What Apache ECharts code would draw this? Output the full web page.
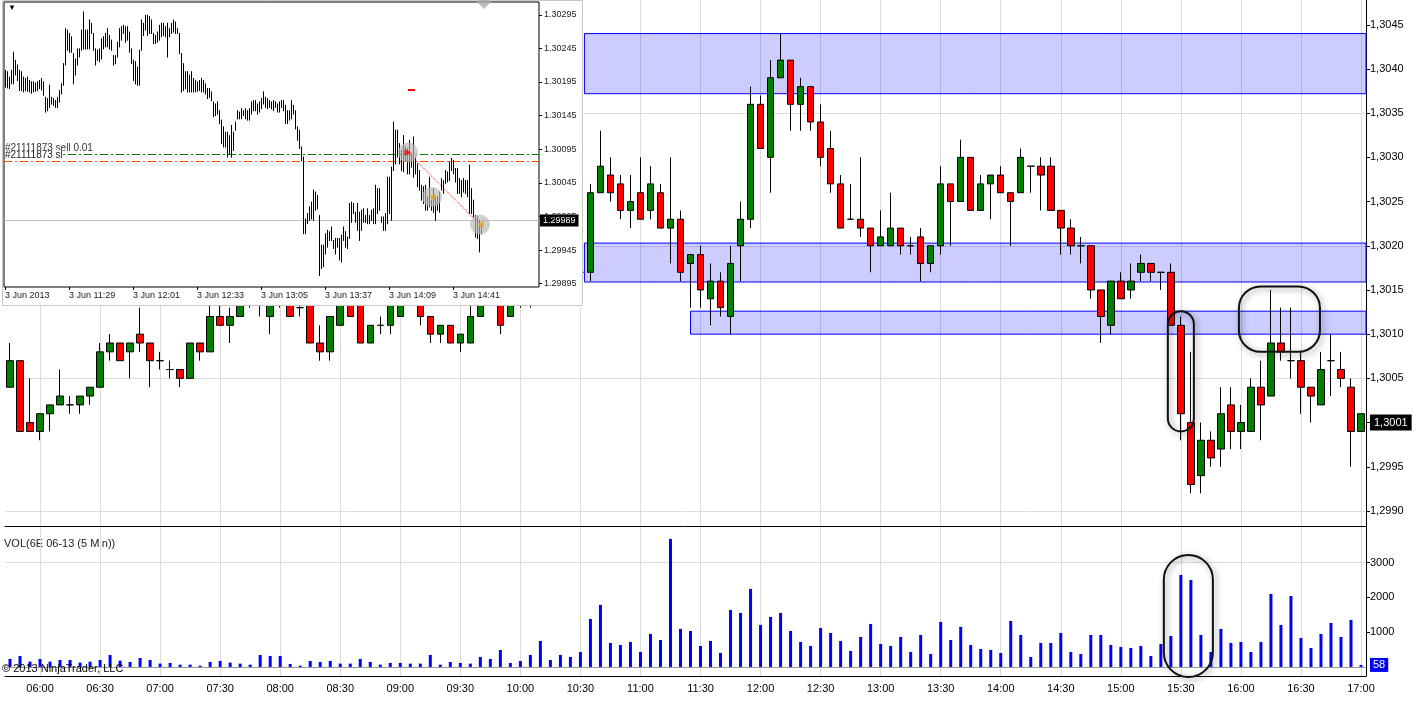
<!DOCTYPE html>
<html>
<head>
<meta charset="utf-8">
<title>6E 06-13 (5 Min)</title>
<script src="https://cdn.jsdelivr.net/npm/echarts@6/dist/echarts.min.js"></script>
<style>
  html, body { margin: 0; padding: 0; background: #fff; }
  #chart { width: 1424px; height: 703px; }
</style>
</head>
<body>
<div id="chart"></div>
<script>
// ---- main chart: 6E 06-13, 5 minute bars 05:45 .. 17:00 ----
const times = [];
for (let m = 5 * 60 + 45; m <= 17 * 60; m += 5) {
  times.push(String(Math.floor(m / 60)).padStart(2, "0") + ":" + String(m % 60).padStart(2, "0"));
}

// [open, high, low, close]
const ohlc = [
  [1.3004, 1.3009, 1.3004, 1.3007], [1.3007, 1.3007, 1.2999, 1.2999], [1.3000, 1.3005, 1.2999, 1.2999],
  [1.2999, 1.3001, 1.2998, 1.3001], [1.3001, 1.3002, 1.2999, 1.3002], [1.3002, 1.3006, 1.3002, 1.3003],
  [1.3002, 1.3003, 1.3001, 1.3002], [1.3002, 1.3003, 1.3001, 1.3003], [1.3003, 1.3004, 1.3002, 1.3004],
  [1.3004, 1.3009, 1.3004, 1.3008], [1.3008, 1.3010, 1.3007, 1.3009], [1.3009, 1.3009, 1.3007, 1.3007],
  [1.3008, 1.3009, 1.3005, 1.3009], [1.3010, 1.3013, 1.3008, 1.3009], [1.3009, 1.3009, 1.3004, 1.3007],
  [1.3007, 1.3008, 1.3006, 1.3007], [1.3006, 1.3007, 1.3005, 1.3006], [1.3006, 1.3006, 1.3004, 1.3005],
  [1.3005, 1.3009, 1.3005, 1.3009], [1.3009, 1.3009, 1.3007, 1.3008], [1.3008, 1.3014, 1.3008, 1.3012],
  [1.3012, 1.3014, 1.3011, 1.3011], [1.3011, 1.3013, 1.3009, 1.3012], [1.3012, 1.3015, 1.3012, 1.3014],
  [1.3014, 1.3015, 1.3013, 1.3014], [1.3014, 1.3016, 1.3012, 1.3015], [1.3012, 1.3016, 1.3010, 1.3015],
  [1.3015, 1.3016, 1.3013, 1.3014], [1.3015, 1.3016, 1.3012, 1.3012], [1.3013, 1.3014, 1.3012, 1.3013],
  [1.3014, 1.3015, 1.3009, 1.3009], [1.3009, 1.3011, 1.3007, 1.3008], [1.3008, 1.3012, 1.3007, 1.3012],
  [1.3011, 1.3015, 1.3011, 1.3014], [1.3014, 1.3015, 1.3012, 1.3012], [1.3015, 1.3016, 1.3009, 1.3009],
  [1.3009, 1.3011, 1.3009, 1.3011], [1.3011, 1.3012, 1.3010, 1.3011], [1.3011, 1.3015, 1.3010, 1.3014],
  [1.3012, 1.3016, 1.3012, 1.3015], [1.3015, 1.3017, 1.3014, 1.3016], [1.3015, 1.3016, 1.3011, 1.3012],
  [1.3012, 1.3012, 1.3009, 1.3010], [1.3010, 1.3011, 1.3009, 1.3011], [1.3011, 1.3011, 1.3009, 1.3009],
  [1.3009, 1.3010, 1.3008, 1.3010], [1.3009, 1.3014, 1.3009, 1.3012], [1.3012, 1.3016, 1.3012, 1.3015],
  [1.3015, 1.3017, 1.3014, 1.3016], [1.3014, 1.3015, 1.3010, 1.3011], [1.3012, 1.3015, 1.3012, 1.3014],
  [1.3014, 1.3017, 1.3013, 1.3016], [1.3016, 1.3017, 1.3013, 1.3015], [1.3015, 1.3019, 1.3014, 1.3017],
  [1.3017, 1.3018, 1.3015, 1.3016], [1.3016, 1.3019, 1.3015, 1.3018], [1.3018, 1.3019, 1.3016, 1.3017],
  [1.3017, 1.3018, 1.3016, 1.3017], [1.3017, 1.3027, 1.3016, 1.3026], [1.3026, 1.3033, 1.3026, 1.3029],
  [1.3028, 1.3030, 1.3025, 1.3026], [1.3027, 1.3028, 1.3023, 1.3024], [1.3024, 1.3028, 1.3022, 1.3025],
  [1.3026, 1.3030, 1.3023, 1.3023], [1.3024, 1.3029, 1.3023, 1.3027], [1.3026, 1.3027, 1.3022, 1.3022],
  [1.3022, 1.3030, 1.3018, 1.3023], [1.3023, 1.3024, 1.3016, 1.3017], [1.3018, 1.3019, 1.3013, 1.3019],
  [1.3019, 1.3020, 1.3013, 1.3015], [1.3014, 1.3018, 1.3011, 1.3016], [1.3016, 1.3017, 1.3012, 1.3013],
  [1.3012, 1.3020, 1.3010, 1.3018], [1.3020, 1.3025, 1.3016, 1.3023], [1.3023, 1.3038, 1.3022, 1.3036],
  [1.3036, 1.3037, 1.3031, 1.3031], [1.3030, 1.3041, 1.3026, 1.3039], [1.3039, 1.3044, 1.3039, 1.3041],
  [1.3041, 1.3041, 1.3033, 1.3036], [1.3036, 1.3039, 1.3033, 1.3038], [1.3038, 1.3038, 1.3033, 1.3034],
  [1.3034, 1.3036, 1.3029, 1.3030], [1.3031, 1.3033, 1.3026, 1.3027], [1.3027, 1.3028, 1.3022, 1.3022],
  [1.3023, 1.3027, 1.3023, 1.3023], [1.3023, 1.3030, 1.3021, 1.3022], [1.3022, 1.3022, 1.3017, 1.3020],
  [1.3020, 1.3024, 1.3020, 1.3021], [1.3020, 1.3026, 1.3020, 1.3022], [1.3022, 1.3022, 1.3019, 1.3020],
  [1.3020, 1.3021, 1.3019, 1.3020], [1.3021, 1.3022, 1.3016, 1.3018], [1.3018, 1.3020, 1.3017, 1.3020],
  [1.3020, 1.3029, 1.3019, 1.3027], [1.3027, 1.3027, 1.3020, 1.3025], [1.3025, 1.3032, 1.3025, 1.3030],
  [1.3030, 1.3030, 1.3024, 1.3024], [1.3024, 1.3028, 1.3024, 1.3027], [1.3027, 1.3028, 1.3023, 1.3028],
  [1.3028, 1.3029, 1.3026, 1.3026], [1.3026, 1.3026, 1.3020, 1.3025], [1.3026, 1.3031, 1.3026, 1.3030],
  [1.3029, 1.3029, 1.3026, 1.3029], [1.3029, 1.3030, 1.3024, 1.3028], [1.3029, 1.3030, 1.3024, 1.3024],
  [1.3024, 1.3024, 1.3019, 1.3022], [1.3022, 1.3023, 1.3019, 1.3020], [1.3020, 1.3021, 1.3018, 1.3020],
  [1.3020, 1.3020, 1.3014, 1.3015], [1.3015, 1.3015, 1.3009, 1.3012], [1.3011, 1.3016, 1.3010, 1.3016],
  [1.3016, 1.3017, 1.3014, 1.3014], [1.3015, 1.3018, 1.3014, 1.3016], [1.3017, 1.3019, 1.3016, 1.3018],
  [1.3018, 1.3018, 1.3016, 1.3017], [1.3017, 1.3017, 1.3015, 1.3017], [1.3017, 1.3018, 1.3011, 1.3011],
  [1.3011, 1.3012, 1.2998, 1.3001], [1.3000, 1.3008, 1.2992, 1.2993], [1.2994, 1.3000, 1.2992, 1.2998],
  [1.2998, 1.2999, 1.2995, 1.2996], [1.2997, 1.3004, 1.2995, 1.3001], [1.3002, 1.3004, 1.2997, 1.2999],
  [1.2999, 1.3002, 1.2997, 1.3000], [1.2999, 1.3005, 1.2999, 1.3004], [1.3004, 1.3007, 1.2998, 1.3002],
  [1.3003, 1.3015, 1.3003, 1.3009], [1.3009, 1.3013, 1.3007, 1.3008], [1.3007, 1.3013, 1.3005, 1.3007],
  [1.3007, 1.3008, 1.3001, 1.3004], [1.3004, 1.3004, 1.3000, 1.3003], [1.3002, 1.3008, 1.3002, 1.3006],
  [1.3007, 1.3010, 1.3003, 1.3007], [1.3006, 1.3008, 1.3004, 1.3005], [1.3004, 1.3005, 1.2995, 1.2999],
  [1.2999, 1.3001, 1.2999, 1.3001]
];

const volume = [
  230, 316, 153, 230, 153, 201, 201, 125, 153, 201,
  345, 182, 144, 259, 201, 96, 115, 67, 67, 38,
  144, 172, 125, 96, 67, 345, 316, 316, 86, 38,
  172, 144, 172, 96, 96, 230, 144, 67, 115, 115,
  96, 96, 345, 67, 144, 115, 96, 287, 230, 489,
  115, 172, 345, 747, 201, 345, 287, 431, 1380, 1782,
  690, 632, 718, 431, 948, 776, 3679, 1092, 1035, 604,
  747, 402, 1638, 1552, 2242, 1207, 1437, 1552, 1035, 718,
  604, 1121, 977, 747, 460, 862, 1236, 661, 604, 862,
  431, 920, 374, 1293, 776, 1150, 632, 517, 489, 402,
  1322, 920, 287, 690, 690, 977, 431, 374, 920, 920,
  632, 575, 546, 604, 316, 661, 891, 2644, 2500, 920,
  431, 1092, 690, 718, 431, 718, 2098, 1207, 2040, 833,
  546, 948, 1264, 862, 1351, 58
];

const priceLabels = [1.2990, 1.2995, 1.3000, 1.3005, 1.3010, 1.3015, 1.3020, 1.3025, 1.3030, 1.3035, 1.3040, 1.3045];
const priceGridLines = [1.2990, 1.3005, 1.3020, 1.3035];
const volumeLabels = [1000, 2000, 3000];
const volumeGridLines = [3000];
const lastPrice = 1.3001;
const lastVolume = 58;

// support / resistance zones: [fromBar, topPrice, toBar, bottomPrice]
const zones = [
  [57.4, 1.30440, 135.5, 1.30372],
  [57.4, 1.30203, 135.5, 1.30159],
  [68.0, 1.30126, 135.5, 1.30100]
];

// ---- inset: MT4 1 minute bars, prices in points (1 point = 0.00001) ----
const insetTimeLabels = ["3 Jun 2013", "3 Jun 11:29", "3 Jun 12:01", "3 Jun 12:33",
  "3 Jun 13:05", "3 Jun 13:37", "3 Jun 14:09", "3 Jun 14:41"];
const insetHigh = [
  130213, 130211, 130203, 130213, 130240, 130228, 130221, 130213, 130211, 130203,
  130201, 130203, 130198, 130196, 130196, 130194, 130196, 130198, 130201, 130196,
  130173, 130171, 130191, 130173, 130171, 130168, 130173, 130183, 130193, 130223,
  130275, 130273, 130268, 130263, 130238, 130230, 130245, 130245, 130273, 130300,
  130273, 130273, 130288, 130283, 130268, 130245, 130243, 130245, 130260, 130263,
  130268, 130275, 130265, 130258, 130235, 130235, 130255, 130275, 130278, 130280,
  130278, 130278, 130270, 130245, 130228, 130226, 130218, 130243, 130288, 130283,
  130295, 130295, 130293, 130288, 130268, 130265, 130270, 130280, 130283, 130283,
  130278, 130283, 130275, 130283, 130288, 130285, 130275, 130268, 130238, 130223,
  130211, 130211, 130206, 130211, 130201, 130198, 130196, 130198, 130201, 130198,
  130193, 130186, 130186, 130181, 130166, 130163, 130166, 130153, 130139, 130129,
  130121, 130121, 130116, 130131, 130121, 130136, 130153, 130151, 130156, 130153,
  130156, 130153, 130156, 130166, 130168, 130168, 130163, 130166, 130171, 130181,
  130173, 130171, 130168, 130166, 130168, 130166, 130163, 130166, 130168, 130168,
  130161, 130153, 130153, 130168, 130161, 130153, 130129, 130124, 130099, 130084,
  129992, 130000, 130010, 130017, 130035, 130032, 130027, 129997, 129953, 129953,
  129970, 129975, 129973, 129980, 129960, 129963, 129963, 129963, 129968, 129980,
  129973, 129965, 130015, 130017, 130015, 130002, 130015, 130002, 130005, 130007,
  129997, 130007, 129997, 130005, 130007, 130042, 130037, 130037, 129995, 129995,
  130000, 130054, 130054, 130069, 130136, 130124, 130124, 130104, 130094, 130116,
  130099, 130097, 130109, 130089, 130114, 130084, 130074, 130064, 130042, 130040,
  130042, 130025, 130054, 130020, 130037, 130025, 130025, 130032, 130052, 130049,
  130064, 130062, 130077, 130082, 130079, 130067, 130067, 130052, 130049, 130052,
  130049, 130049, 130072, 130037, 130020, 129997, 129995, 129990, 129982
];
const insetLow = [
  130188, 130187, 130186, 130193, 130193, 130206, 130198, 130183, 130183, 130181,
  130183, 130182, 130181, 130179, 130181, 130182, 130183, 130186, 130184, 130176,
  130151, 130153, 130158, 130163, 130161, 130158, 130158, 130166, 130178, 130191,
  130221, 130243, 130240, 130240, 130193, 130206, 130221, 130233, 130243, 130245,
  130245, 130245, 130245, 130268, 130243, 130221, 130228, 130226, 130230, 130245,
  130248, 130248, 130245, 130243, 130221, 130223, 130233, 130248, 130258, 130268,
  130255, 130258, 130240, 130223, 130198, 130193, 130191, 130191, 130243, 130265,
  130273, 130265, 130268, 130268, 130253, 130253, 130255, 130258, 130263, 130265,
  130263, 130233, 130263, 130268, 130270, 130268, 130268, 130238, 130181, 130183,
  130186, 130181, 130181, 130181, 130181, 130181, 130182, 130183, 130181, 130181,
  130178, 130171, 130173, 130168, 130144, 130146, 130148, 130134, 130104, 130099,
  130099, 130084, 130089, 130084, 130094, 130124, 130141, 130141, 130141, 130146,
  130141, 130139, 130139, 130148, 130153, 130153, 130148, 130151, 130156, 130163,
  130158, 130156, 130158, 130156, 130153, 130158, 130151, 130151, 130158, 130153,
  130134, 130134, 130139, 130141, 130148, 130126, 130109, 130097, 130079, 129970,
  129970, 129985, 129990, 129992, 129990, 130005, 130007, 129908, 129918, 129921,
  129940, 129950, 129960, 129960, 129948, 129940, 129950, 129931, 129928, 129960,
  129950, 129948, 129963, 129987, 130000, 129987, 129975, 129960, 129975, 129987,
  129987, 129985, 129985, 129990, 129985, 129985, 130000, 130005, 129987, 129975,
  129975, 129985, 130000, 129990, 130064, 130074, 130084, 130074, 130064, 130062,
  130079, 130059, 130059, 130069, 130054, 130059, 130040, 130035, 130020, 130015,
  130005, 130005, 130010, 130005, 130002, 129990, 130005, 130002, 130035, 130030,
  130045, 130047, 130049, 130064, 130059, 130047, 130030, 130030, 130025, 130032,
  130030, 130025, 130000, 130000, 129995, 129965, 129963, 129943, 129970
];
const insetPriceLabels = [129895, 129945, 129995, 130045, 130095, 130145, 130195, 130245, 130295];
const insetLabelBars = [0, 32, 64, 96, 128, 160, 192, 224];
const bidPrice = 129989;
const sellLine = 130087;
const stopLine = 130077;
// trade markers [bar, price]
const tradeOpen = [201.5, 130090];
const tradeMid = [213.5, 130024];
const tradeClose = [237.5, 129983];
const pendingMark = [[201.5, 130183], [205, 130183]];

const FONT = "Liberation Sans, Arial, sans-serif";
const halfHours = times.map((t, i) => (/:(00|30)$/.test(t) ? i : -1)).filter((i) => i >= 0);
const fmtPrice = (v) => v.toFixed(4).replace(".", ",");
const NOLINE = "rgba(0,0,0,0)";

const chart = echarts.init(document.getElementById("chart"));

const hiddenAxisBase = {
  axisLine: { show: false, onZero: false },
  axisLabel: { show: false },
};

const option = {
  animation: false,
  backgroundColor: "#fff",
  textStyle: { fontFamily: FONT },
  grid: [
    { left: 5, right: 58, top: 0, height: 526 },
    { left: 5, right: 58, top: 526, height: 150 },
    { left: 4, top: 2, width: 535, height: 285, show: true, borderColor: "#000", borderWidth: 1,
      backgroundColor: "#fff", zlevel: 1, z: 1 }
  ],
  xAxis: [
    { type: "category", gridIndex: 0, data: times,
      axisLine: { onZero: false, lineStyle: { color: "#000" } },
      axisTick: { show: false }, axisLabel: { show: false }, splitLine: { show: false } },
    { type: "category", gridIndex: 1, data: times,
      axisLine: { onZero: false, lineStyle: { color: "#000" } },
      axisTick: { show: false },
      axisLabel: { interval: (i) => halfHours.includes(i), color: "#000", fontSize: 11, fontFamily: FONT, margin: 7 },
      splitLine: { show: false } },
    Object.assign({ type: "value", gridIndex: 0, min: -0.5, max: times.length - 0.5,
      axisTick: { show: false, customValues: halfHours },
      splitLine: { show: true, lineStyle: { color: "#dcdcdc" } } }, hiddenAxisBase),
    Object.assign({ type: "value", gridIndex: 1, min: -0.5, max: times.length - 0.5,
      axisTick: { show: false, customValues: halfHours },
      splitLine: { show: true, lineStyle: { color: "#dcdcdc" } } }, hiddenAxisBase),
    { type: "value", gridIndex: 2, min: -0.5, max: 267, zlevel: 1, z: 5,
      axisLine: { show: false, onZero: false },
      axisTick: { show: true, customValues: insetLabelBars, length: 3, lineStyle: { color: "#000" } },
      axisLabel: { customValues: insetLabelBars, align: "left", color: "#1a1a1a", fontSize: 9, fontFamily: FONT, margin: 4,
        formatter: (v) => insetTimeLabels[Math.round(v / 32)] },
      splitLine: { show: false } }
  ],
  yAxis: [
    { type: "value", gridIndex: 0, position: "right", min: 1.29883, max: 1.30478,
      axisLine: { show: true, onZero: false, lineStyle: { color: "#000" } },
      axisTick: { show: true, customValues: priceLabels, length: 4, lineStyle: { color: "#000" } },
      axisLabel: { customValues: priceLabels, formatter: fmtPrice, color: "#000", fontSize: 11, fontFamily: FONT, margin: 4 },
      splitLine: { show: false } },
    Object.assign({ type: "value", gridIndex: 0, position: "left", min: 1.29883, max: 1.30478,
      axisTick: { show: false, customValues: priceGridLines },
      splitLine: { show: true, lineStyle: { color: "#dcdcdc" } } }, hiddenAxisBase),
    { type: "value", gridIndex: 1, position: "right", min: -260, max: 4050,
      axisLine: { show: true, onZero: false, lineStyle: { color: "#000" } },
      axisTick: { show: true, customValues: volumeLabels, length: 4, lineStyle: { color: "#000" } },
      axisLabel: { customValues: volumeLabels, formatter: (v) => String(v), color: "#000", fontSize: 11, fontFamily: FONT, margin: 4 },
      splitLine: { show: false } },
    Object.assign({ type: "value", gridIndex: 1, position: "left", min: -260, max: 4050,
      axisTick: { show: false, customValues: volumeGridLines },
      splitLine: { show: true, lineStyle: { color: "#dcdcdc" } } }, hiddenAxisBase),
    { type: "value", gridIndex: 2, position: "right", min: 129890, max: 130314, zlevel: 1, z: 5,
      axisLine: { show: false, onZero: false },
      axisTick: { show: true, customValues: insetPriceLabels, length: 3, lineStyle: { color: "#000" } },
      axisLabel: { customValues: insetPriceLabels, formatter: (v) => (v / 100000).toFixed(5),
        color: "#1a1a1a", fontSize: 9, fontFamily: FONT, margin: 5 },
      splitLine: { show: false } }
  ],
  series: [
    {
      name: "6E 06-13", type: "candlestick", xAxisIndex: 0, yAxisIndex: 0, z: 2,
      barWidth: 7,
      data: ohlc.map((r) => [r[0], r[3], r[2], r[1]]),
      itemStyle: { color: "#008000", color0: "#ff0000", borderColor: "#000", borderColor0: "#000",
        borderColorDoji: "#000", borderWidth: 1 },
      markLine: {
        silent: true, symbol: ["none", "none"], z: 10,
        data: [{ yAxis: lastPrice, lineStyle: { color: NOLINE, width: 1 },
          label: { show: true, position: "end", formatter: fmtPrice(lastPrice), distance: 4,
            backgroundColor: "#000", color: "#fff", fontSize: 11, fontFamily: FONT, padding: [3, 4, 2, 4] } }]
      }
    },
    {
      name: "zones", type: "line", xAxisIndex: 2, yAxisIndex: 0, z: 5, data: [],
      markArea: {
        silent: true,
        itemStyle: { color: "rgba(0,0,255,0.2)", borderColor: "#0000ff", borderWidth: 1 },
        data: zones.map((zn) => [{ coord: [zn[0], zn[1]] }, { coord: [zn[2], zn[3]] }])
      }
    },
    {
      name: "VOL", type: "bar", xAxisIndex: 1, yAxisIndex: 2, barWidth: 3,
      data: volume, itemStyle: { color: "#0000ff" },
      markLine: {
        silent: true, symbol: ["none", "none"], z: 1,
        data: [
          { yAxis: 0, lineStyle: { color: "#9a9a9a", type: "solid", width: 1 }, label: { show: false } },
          { yAxis: lastVolume, lineStyle: { color: NOLINE, width: 1 },
            label: { show: true, position: "end", formatter: String(lastVolume), distance: 4,
              backgroundColor: "#0000ff", color: "#fff", fontSize: 11, fontFamily: FONT, padding: [2, 3, 1, 3] } }
        ]
      }
    },
    {
      name: "inset bars", type: "custom", xAxisIndex: 4, yAxisIndex: 4, zlevel: 1, z: 3,
      data: insetHigh.map((h, i) => [i, h, insetLow[i]]),
      renderItem: (params, api) => {
        const hi = api.coord([api.value(0), api.value(1)]);
        const lo = api.coord([api.value(0), api.value(2)]);
        const x = Math.round(hi[0]) + 0.5;
        return { type: "line", shape: { x1: x, y1: hi[1], x2: x, y2: lo[1] + 1 },
          style: { stroke: "#000", lineWidth: 1 } };
      }
    },
    {
      name: "inset trades", type: "scatter", xAxisIndex: 4, yAxisIndex: 4, zlevel: 1, z: 4,
      symbolSize: 20,
      itemStyle: { color: "rgba(185,185,185,0.85)" },
      data: [tradeOpen, tradeMid, tradeClose],
      markLine: {
        silent: true, symbol: ["none", "none"], zlevel: 1, z: 3,
        data: [
          { yAxis: bidPrice, lineStyle: { color: "#bdbdbd", type: "solid", width: 1 },
            label: { show: true, position: "end", formatter: (bidPrice / 100000).toFixed(5), distance: 1,
              backgroundColor: "#000", color: "#fff", fontSize: 9, fontFamily: FONT, padding: [2, 3, 1, 3] } },
          { yAxis: sellLine, lineStyle: { color: "#008000", type: [8, 3, 2, 3], width: 1 },
            label: { show: true, position: "insideStartTop", formatter: "#21111873 sell 0.01", distance: 1,
              color: "#333", fontSize: 10, fontFamily: FONT } },
          { yAxis: stopLine, lineStyle: { color: "#ff4500", type: [8, 3, 2, 3], width: 1 },
            label: { show: true, position: "insideStartTop", formatter: "#21111873 sl", distance: 1,
              color: "#222", fontSize: 10, fontFamily: FONT, backgroundColor: "#fff" } },
          [{ coord: tradeOpen, lineStyle: { color: "#ff0000", type: "dotted", width: 1 }, label: { show: false } },
           { coord: tradeClose }],
          [{ coord: pendingMark[0], lineStyle: { color: "#ff0000", type: "solid", width: 2 }, label: { show: false } },
           { coord: pendingMark[1] }]
        ]
      }
    },
    {
      name: "inset arrows", type: "scatter", xAxisIndex: 4, yAxisIndex: 4, zlevel: 1, z: 6,
      symbol: "triangle", symbolSize: 7,
      data: [
        { value: tradeOpen, symbolRotate: -90, itemStyle: { color: "#ff0000" } },
        { value: tradeMid, symbolRotate: 90, itemStyle: { color: "#e0a020" } },
        { value: tradeClose, symbolRotate: 90, itemStyle: { color: "#e0a020" } },
        { value: [239.5, 130314], symbol: "diamond", symbolSize: 14, symbolRotate: 0, itemStyle: { color: "#aaaaaa" } }
      ]
    }
  ],
  graphic: [
    { id: "insetFrame", type: "rect", zlevel: 1, z: 0, silent: true,
      shape: { x: 2.5, y: 0.5, width: 580, height: 305 },
      style: { fill: "#fff", stroke: "#c8c8c8", lineWidth: 1 } },
    { id: "insetMenu", type: "text", zlevel: 1, z: 10, left: 8, top: 4, silent: true,
      style: { text: "\u25BC", fontSize: 8, fill: "#000" } },
    { id: "volTitle", type: "text", left: 4, top: 538, silent: true,
      style: { text: "VOL(6E 06-13 (5 Min))", fontSize: 11, fontFamily: FONT, fill: "#222" } },
    { id: "copyright", type: "text", left: 2, top: 663, silent: true, z: 20,
      style: { text: "\u00A9 2013 NinjaTrader, LLC", fontSize: 11, fontFamily: FONT, fill: "#000" } }
  ]
};

chart.setOption(option);

// highlight rings, defined in data units and placed through the axes
const rings = [
  { axes: { xAxisIndex: 2, yAxisIndex: 0 }, from: [115.7, 1.30126], to: [118.3, 1.29990], round: 0.5 },
  { axes: { xAxisIndex: 2, yAxisIndex: 0 }, from: [122.8, 1.30154], to: [130.9, 1.30080], round: 0.33 },
  { axes: { xAxisIndex: 3, yAxisIndex: 2 }, from: [115.3, 3218], to: [120.2, -290], round: 0.5 }
];
const ringEls = rings.map((r, k) => {
  const a = chart.convertToPixel(r.axes, r.from);
  const b = chart.convertToPixel(r.axes, r.to);
  const x = Math.min(a[0], b[0]), y = Math.min(a[1], b[1]);
  const w = Math.abs(b[0] - a[0]), h = Math.abs(b[1] - a[1]);
  return {
    id: "ring" + k, type: "rect", z: 30, silent: true,
    shape: { x: x, y: y, width: w, height: h, r: Math.min(w, h) * r.round },
    style: { fill: "none", stroke: "#111", lineWidth: 2,
      shadowBlur: 6, shadowColor: "rgba(0,0,0,0.45)", shadowOffsetX: 2, shadowOffsetY: 2 }
  };
});
chart.setOption({ graphic: ringEls });
</script>
</body>
</html>
